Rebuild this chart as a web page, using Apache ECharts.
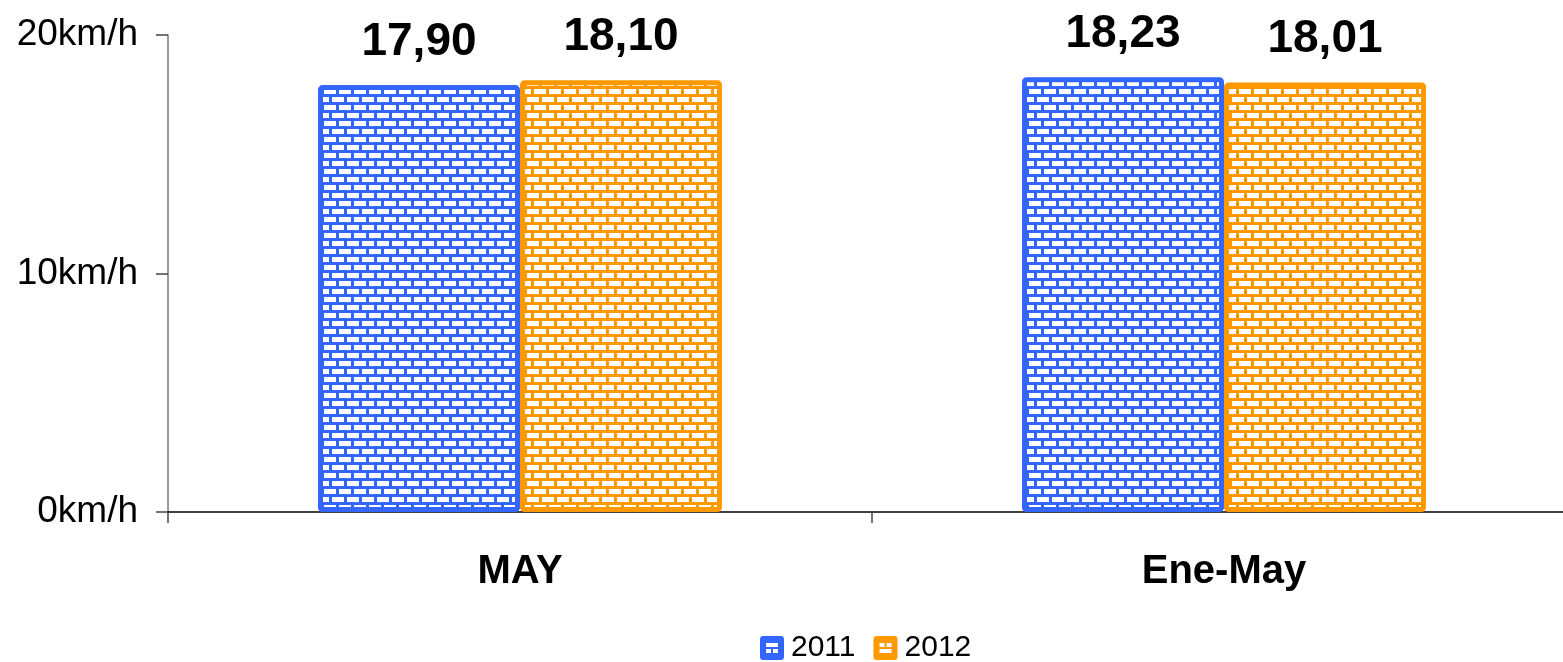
<!DOCTYPE html>
<html>
<head>
<meta charset="utf-8">
<script src="https://cdn.jsdelivr.net/npm/echarts@6/dist/echarts.min.js"></script>
<style>
html,body{margin:0;padding:0;background:#fff;overflow:hidden;}
#chart{width:1580px;height:662px;}
</style>
</head>
<body>
<div id="chart"></div>
<script>
const categories = ['MAY', 'Ene-May'];
const seriesNames = ['2011', '2012'];
const values2011 = [17.90, 18.23];
const values2012 = [18.10, 18.01];
const yTicks = [0, 10, 20];

function brick(color) {
  const c = document.createElement('canvas');
  c.width = 15; c.height = 16;
  const g = c.getContext('2d');
  g.fillStyle = color; g.fillRect(0, 0, 15, 16);
  g.fillStyle = '#ffffff';
  g.fillRect(2, 1, 12, 5);
  g.fillRect(9, 9, 6, 5);
  g.fillRect(0, 9, 6, 5);
  return c;
}
const blue = '#3366FF', orange = '#FF9900';
const outer = 'M3 0 H21 Q24 0 24 3 V21 Q24 24 21 24 H3 Q0 24 0 21 V3 Q0 0 3 0 Z ';
const icon2011 = 'path://' + outer + 'M6 7 V11 H18 V7 Z M6 13 V17 H11 V13 Z M13 13 V17 H18 V13 Z';
const icon2012 = 'path://' + outer + 'M6 7 V11 H11 V7 Z M13 7 V11 H18 V7 Z M6 13 V17 H18 V13 Z';

const FONT = 'Liberation Sans, Arial, sans-serif';
const chart = echarts.init(document.getElementById('chart'), null, {renderer: 'canvas'});
function lbl(p) { return p.value.toFixed(2).replace('.', ','); }
const labelCfg = {
  show: true, position: 'top', distance: 20,
  fontFamily: FONT, fontWeight: 'bold', fontSize: 46, color: '#000',
  formatter: lbl
};
chart.setOption({
  animation: false,
  grid: {left: 168, right: 4, top: 35, bottom: 150, containLabel: false},
  legend: {
    data: [
      {name: seriesNames[0], icon: icon2011, itemStyle: {color: blue, borderWidth: 0}},
      {name: seriesNames[1], icon: icon2012, itemStyle: {color: orange, borderWidth: 0}}
    ],
    left: 755, top: 628, itemWidth: 24, itemHeight: 24, itemGap: 18,
    textStyle: {fontFamily: FONT, fontSize: 30, color: '#000', padding: [0, 0, 0, 2]}
  },
  xAxis: {
    type: 'category', data: categories,
    axisLine: {lineStyle: {color: '#000', width: 1.5}},
    axisTick: {show: true, length: 11, lineStyle: {color: '#444', width: 1.5}},
    axisLabel: {fontFamily: FONT, fontWeight: 'bold', fontSize: 40, color: '#000', margin: 40}
  },
  yAxis: {
    type: 'value', min: yTicks[0], max: yTicks[yTicks.length - 1], interval: yTicks[1] - yTicks[0],
    axisLine: {show: true, lineStyle: {color: '#777', width: 1.5}},
    axisTick: {show: true, length: 12, lineStyle: {color: '#444', width: 1.5}},
    splitLine: {show: false},
    axisLabel: {formatter: '{value}km/h', fontFamily: FONT, fontSize: 37, color: '#000', margin: 30}
  },
  series: [
    {
      name: seriesNames[0], type: 'bar', data: values2011, barWidth: 202, barGap: '0%',
      itemStyle: {color: {image: brick(blue), repeat: 'repeat'}, borderColor: blue, borderWidth: 5, borderRadius: 2},
      label: labelCfg
    },
    {
      name: seriesNames[1], type: 'bar', data: values2012, barWidth: 202, barGap: '0%',
      itemStyle: {color: {image: brick(orange), repeat: 'repeat'}, borderColor: orange, borderWidth: 5, borderRadius: 2},
      label: labelCfg
    }
  ]
});
</script>
</body>
</html>
